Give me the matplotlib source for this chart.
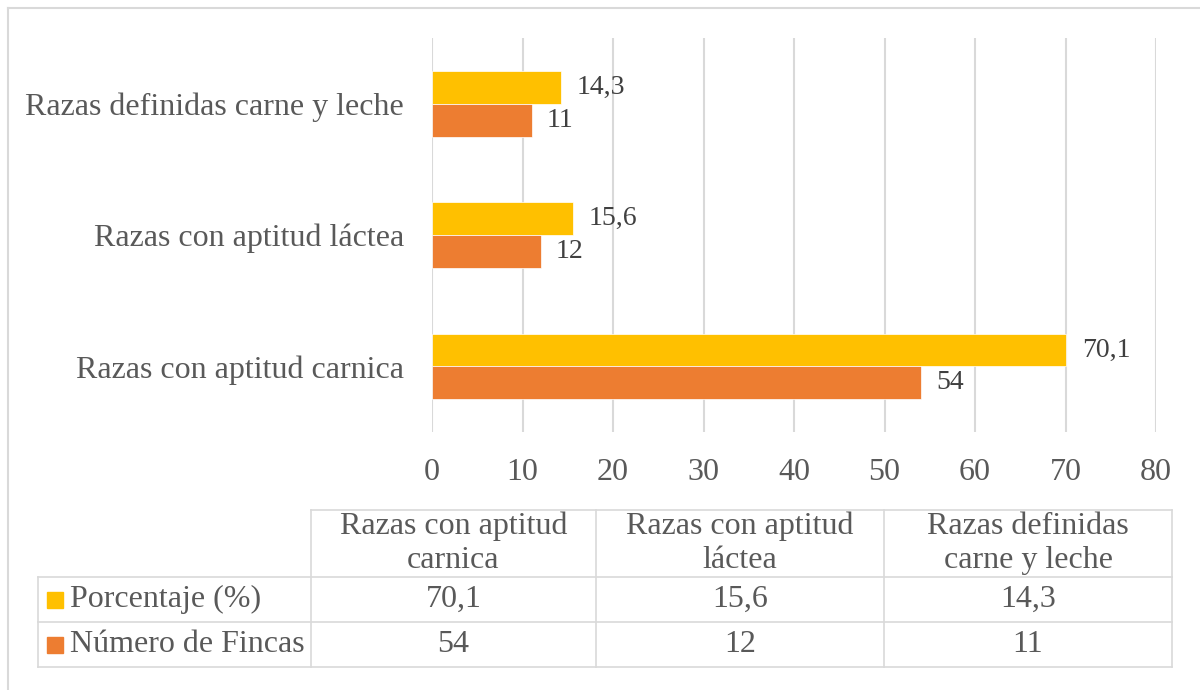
import numpy as np
import matplotlib.pyplot as plt
from matplotlib.lines import Line2D
from matplotlib.patches import Rectangle

plt.rcParams['font.family'] = ['Liberation Serif', 'DejaVu Serif']

categorias = ['Razas con aptitud carnica', 'Razas con aptitud láctea',
              'Razas definidas carne y leche']
cabecera = ['Razas con aptitud\ncarnica', 'Razas con aptitud\nláctea',
            'Razas definidas\ncarne y leche']
porcentaje = [70.1, 15.6, 14.3]
fincas = [54, 12, 11]
series = ['Porcentaje (%)', 'Número de Fincas']
colores = ['#FFC000', '#ED7D31']
gris = '#595959'
linea = '#D9D9D9'

W, H = 1200, 690
fig = plt.figure(figsize=(12, 6.9), dpi=100)

def fx(px):
    return px / W

def fy(py):
    return 1 - py / H

# zona del gráfico
ax = fig.add_axes([fx(432), fy(432), fx(1156) - fx(432), fy(38) - fy(432)])
y = np.arange(len(categorias))
h = 0.25
ax.barh(y + h / 2, porcentaje, height=h, color=colores[0], edgecolor='white', linewidth=0.5)
ax.barh(y - h / 2, fincas, height=h, color=colores[1], edgecolor='white', linewidth=0.5)

def fmt(v):
    return f'{v:g}'.replace('.', ',')

for yi, v in zip(y, porcentaje):
    ax.annotate(fmt(v), (v, yi + h / 2), xytext=(11, 0), textcoords='offset points',
                va='center', ha='left', fontsize=20, color='#404040')
for yi, v in zip(y, fincas):
    ax.annotate(fmt(v), (v, yi - h / 2), xytext=(11, 0), textcoords='offset points',
                va='center', ha='left', fontsize=20, color='#404040')

ax.set_xlim(0, 80)
ax.set_ylim(-0.5, 2.5)
ax.set_xticks(np.arange(0, 81, 10))
ax.set_yticks(y)
ax.set_yticklabels(categorias)
ax.tick_params(axis='y', length=0, pad=20, labelsize=23, labelcolor=gris)
ax.tick_params(axis='x', length=0, pad=19, labelsize=23, labelcolor=gris)
ax.grid(axis='x', color=linea, linewidth=1.5)
ax.set_axisbelow(True)
for s in ax.spines.values():
    s.set_visible(False)

# marco exterior
fig.add_artist(Line2D([fx(8), fx(1200)], [fy(8), fy(8)], color=linea, lw=1.5))
fig.add_artist(Line2D([fx(8), fx(8)], [fy(8), fy(690)], color=linea, lw=1.5))

# tabla de datos
cols = [38, 311, 596, 884, 1172]
filas = [510, 577, 622, 667]
lw = 1.2
for x in cols[1:]:
    fig.add_artist(Line2D([fx(x), fx(x)], [fy(filas[0]), fy(filas[-1])], color=linea, lw=lw))
fig.add_artist(Line2D([fx(cols[0]), fx(cols[0])], [fy(filas[1]), fy(filas[-1])], color=linea, lw=lw))
fig.add_artist(Line2D([fx(cols[1]), fx(cols[-1])], [fy(filas[0]), fy(filas[0])], color=linea, lw=lw))
for r in filas[1:]:
    fig.add_artist(Line2D([fx(cols[0]), fx(cols[-1])], [fy(r), fy(r)], color=linea, lw=lw))

for i, t in enumerate(cabecera):
    xc = (cols[i + 1] + cols[i + 2]) / 2
    fig.text(fx(xc), fy((filas[0] + filas[1]) / 2), t, ha='center', va='center',
             fontsize=23, color=gris, linespacing=1.25)

for j, (nombre, vals, c) in enumerate(zip(series, [porcentaje, fincas], colores)):
    yc = (filas[j + 1] + filas[j + 2]) / 2
    fig.add_artist(Rectangle((fx(47), fy(yc + 8)), fx(16), fy(0) - fy(16), color=c,
                             transform=fig.transFigure))
    fig.text(fx(70), fy(yc), nombre, ha='left', va='center', fontsize=23, color=gris)
    for i, v in enumerate(vals):
        xc = (cols[i + 1] + cols[i + 2]) / 2
        fig.text(fx(xc), fy(yc), fmt(v), ha='center', va='center', fontsize=23, color=gris)

fig.savefig('out.png', dpi=100)
